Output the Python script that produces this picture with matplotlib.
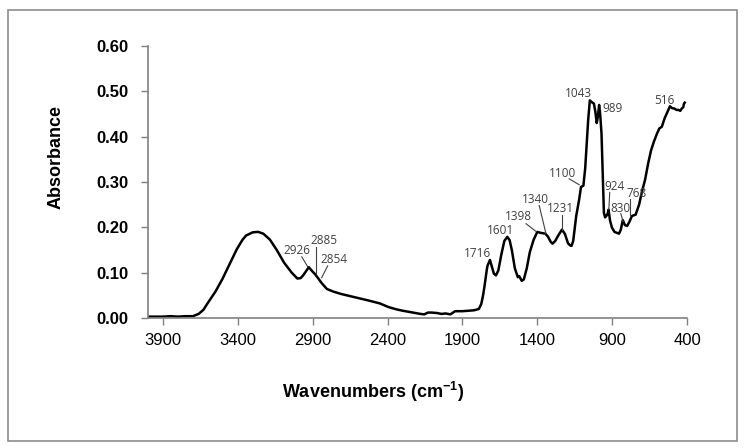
import numpy as np
import matplotlib
matplotlib.use("Agg")
import matplotlib.pyplot as plt
from matplotlib.patches import Rectangle

# spectrum, as (wavenumber cm-1, absorbance) pairs
spectrum_points = [
    (4000, 0.003), (3950, 0.003), (3900, 0.003), (3850, 0.004), (3800, 0.003), (3750, 0.004),
    (3700, 0.004), (3662, 0.009), (3630, 0.018), (3599, 0.034), (3550, 0.058), (3503, 0.086),
    (3450, 0.122), (3408, 0.151), (3370, 0.172), (3345, 0.182), (3300, 0.189), (3265, 0.190),
    (3230, 0.186), (3186, 0.173), (3140, 0.150), (3091, 0.122), (3040, 0.100), (3002, 0.087),
    (2980, 0.088), (2964, 0.094), (2945, 0.103), (2926, 0.112), (2910, 0.106), (2900, 0.102),
    (2885, 0.097), (2862, 0.087), (2840, 0.077), (2805, 0.064), (2760, 0.058), (2710, 0.053),
    (2620, 0.046), (2520, 0.038), (2450, 0.032), (2393, 0.024), (2340, 0.019), (2298, 0.016),
    (2230, 0.012), (2180, 0.009), (2155, 0.008), (2130, 0.012), (2107, 0.012), (2070, 0.011),
    (2040, 0.009), (2012, 0.010), (1980, 0.008), (1949, 0.015), (1900, 0.015), (1860, 0.016),
    (1822, 0.017), (1790, 0.020), (1774, 0.031), (1762, 0.050), (1752, 0.071), (1740, 0.100),
    (1733, 0.115), (1716, 0.128), (1700, 0.110), (1690, 0.098), (1676, 0.094), (1660, 0.105),
    (1640, 0.140), (1620, 0.170), (1600, 0.179), (1585, 0.172), (1570, 0.150), (1550, 0.110),
    (1530, 0.090), (1520, 0.092), (1510, 0.086), (1504, 0.082), (1490, 0.085), (1470, 0.110),
    (1450, 0.145), (1425, 0.172), (1400, 0.190), (1380, 0.188), (1346, 0.186), (1330, 0.180),
    (1310, 0.168), (1298, 0.164), (1280, 0.170), (1260, 0.182), (1235, 0.195), (1215, 0.185),
    (1195, 0.165), (1180, 0.160), (1171, 0.159), (1160, 0.170), (1140, 0.225), (1120, 0.262),
    (1108, 0.289), (1092, 0.292), (1080, 0.330), (1060, 0.437), (1049, 0.480), (1035, 0.476),
    (1022, 0.473), (1012, 0.455), (1003, 0.430), (995, 0.445), (987, 0.470), (980, 0.450),
    (971, 0.407), (962, 0.310), (955, 0.232), (947, 0.222), (939, 0.225), (930, 0.230),
    (924, 0.239), (914, 0.215), (902, 0.200), (885, 0.190), (870, 0.188), (854, 0.186),
    (842, 0.195), (829, 0.216), (815, 0.205), (800, 0.203), (785, 0.212), (768, 0.225),
    (743, 0.228), (720, 0.250), (700, 0.280), (680, 0.305), (660, 0.340), (640, 0.370),
    (620, 0.390), (600, 0.407), (585, 0.418), (568, 0.422), (550, 0.440), (530, 0.455),
    (514, 0.467), (500, 0.463), (485, 0.462), (470, 0.459), (457, 0.459), (445, 0.457),
    (435, 0.462), (425, 0.465), (420, 0.473), (415, 0.475),
]
wavenumber = [p[0] for p in spectrum_points]
absorbance = [p[1] for p in spectrum_points]

# band labels: text, text position, leader line start and end (None = no leader)
band_labels = ["2926", "2885", "2854", "1716", "1601", "1398", "1340", "1231", "1100",
               "1043", "989", "924", "830", "768", "516"]
label_xy = [(3007, 0.148), (2825, 0.171), (2760, 0.128), (1798, 0.142), (1647, 0.193),
            (1527, 0.223), (1413, 0.261), (1247, 0.241), (1231, 0.318), (1124, 0.495),
            (898, 0.462), (887, 0.291), (847, 0.242), (738, 0.275), (553, 0.480)]
leaders = [((2973, 0.135), (2933, 0.113)), ((2880, 0.157), (2880, 0.099)),
           ((2800, 0.115), (2840, 0.089)), None, None,
           ((1475, 0.208), (1409, 0.191)), ((1387, 0.248), (1342, 0.186)),
           ((1236, 0.228), (1236, 0.195)), ((1187, 0.307), (1120, 0.294)), None, None,
           ((916, 0.277), (922, 0.239)), ((842, 0.230), (827, 0.213)),
           ((780, 0.263), (780, 0.228)), None]

x_ticks = [3900, 3400, 2900, 2400, 1900, 1400, 900, 400]
y_ticks = [0.0, 0.1, 0.2, 0.3, 0.4, 0.5, 0.6]


fig = plt.figure(figsize=(7.44, 4.48), dpi=100)
fig.patches.append(Rectangle((8 / 744, 7 / 448), 729 / 744, 431 / 448, transform=fig.transFigure,
                             fill=False, edgecolor="#8c8c8c", linewidth=1.2))
ax = fig.add_axes([148 / 744, 1 - 318 / 448, 539 / 744, 272 / 448])

ax.plot(wavenumber, absorbance, color="black", linewidth=1.8)

for lab, (tx, ty), ld in zip(band_labels, label_xy, leaders):
    ax.text(tx, ty, lab, ha="center", va="center", fontsize=8.5, color="#404040",
            family="Open Sans")
    if ld is not None:
        ax.plot([ld[0][0], ld[1][0]], [ld[0][1], ld[1][1]], color="#404040", linewidth=0.8)

ax.set_xlim(4000, 400)
ax.set_ylim(0, 0.6)
ax.set_xticks(x_ticks)
ax.set_xticklabels([str(t) for t in x_ticks], fontsize=12, family="Liberation Sans")
ax.set_yticks(y_ticks)
ax.set_yticklabels([f"{t:.2f}" for t in y_ticks], fontsize=12, fontweight="bold",
                   family="Liberation Sans")
ax.tick_params(axis="both", colors="#808080", length=5, width=1, labelcolor="black")
ax.tick_params(axis="x", pad=6)
ax.tick_params(axis="y", pad=9)

for s in ["top", "right"]:
    ax.spines[s].set_visible(False)
for s in ["left", "bottom"]:
    ax.spines[s].set_color("#808080")
    ax.spines[s].set_linewidth(1.2)

fig.text(373 / 744, 1 - 392 / 448, "Wavenumbers (cm$^{\\mathregular{-1}}$)", ha="center",
         va="center", fontsize=13, fontweight="bold", family="Liberation Sans")
fig.text(56 / 744, 1 - 157 / 448, "Absorbance", rotation=90, ha="center", va="center",
         fontsize=13, fontweight="bold", family="Liberation Sans")

fig.savefig("out.png", dpi=100)
